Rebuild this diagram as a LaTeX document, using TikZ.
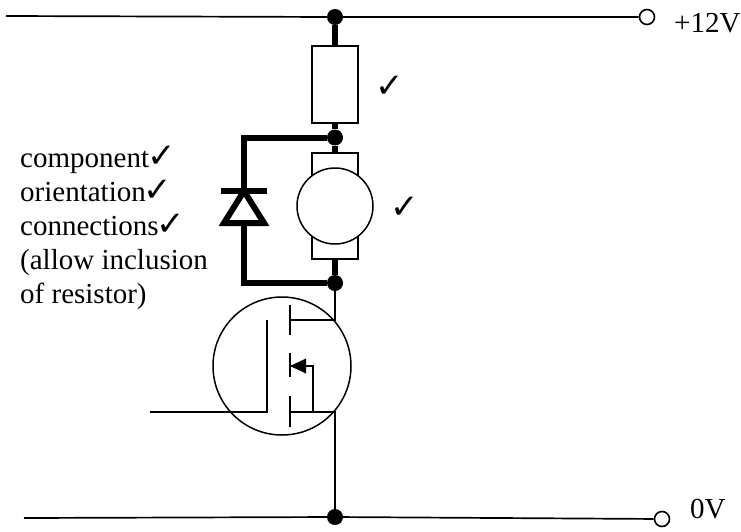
\documentclass[tikz,border=0pt]{standalone}
\usepackage{fontspec}
\setmainfont{Liberation Serif}
\newfontfamily\tickfont{DejaVu Sans}
\newcommand{\ck}{\smash{\hspace{-2pt}\tickfont\fontsize{34}{34}\selectfont ✓}}
\tikzset{
  junction/.style={circle, fill=black, inner sep=0pt, minimum size=16pt},
  terminal/.style={circle, draw=black, fill=white, line width=1.6pt, inner sep=0pt, minimum size=15pt},
  part/.style={draw=black, fill=white, line width=1.5pt, inner sep=0pt},
  thin wire/.style={line width=1.7pt},
  thick wire/.style={line width=6pt},
  label/.style={inner sep=0pt, font=\fontsize{29}{34}\selectfont}
}
\begin{document}
\begin{tikzpicture}[x=1pt, y=-1pt]
\useasboundingbox (0,0) rectangle (741,531);

%% rails and terminals
\coordinate (topleft) at (6,16);
\coordinate (botleft) at (24,518);
\node[terminal] (topterm) at (647,17) {};
\node[terminal] (botterm) at (662,519) {};
\node[junction] (dottop) at (335,17) {};
\node[junction] (dotmid) at (335,137.5) {};
\node[junction] (dotlow) at (335,283) {};
\node[junction] (dotbot) at (335,517) {};
\draw[thin wire] (topleft) -- (dottop) -- (topterm);
\draw[thin wire] (botleft) -- (dotbot) -- (botterm);

%% resistor and motor
\node[part, minimum width=46pt, minimum height=77pt] (resistor) at (335,84.5) {};
\node[part, minimum width=46pt, minimum height=106pt] (motorbody) at (335,206) {};
\node[part, circle, minimum size=76pt] (motor) at (335,206) {};
\draw[thick wire] (dottop) -- (resistor.north);
\draw[thick wire] (resistor.south) -- (dotmid);
\draw[thick wire] (dotmid) -- (motorbody.north);
\draw[thick wire] (motorbody.south) -- (dotlow);

%% diode
\coordinate (diodetop) at (244,191);
\coordinate (diodebot) at (244,223);
\coordinate (diodeleft) at (224,223);
\coordinate (dioderight) at (264,223);
\coordinate (barleft) at (221,191);
\coordinate (barright) at (267,191);
\draw[thick wire] (dotmid) -| (diodetop);
\draw[thick wire] (barleft) -- (barright);
\draw[thick wire] (diodetop) -- (dioderight) -- (diodeleft) -- cycle;
\draw[thick wire] (diodebot) |- (dotlow);

%% mosfet
\node[part, circle, fill=none, minimum size=138pt] (fet) at (282,366) {};
\coordinate (gatetop) at (267,320);
\coordinate (gatebot) at (267,412);
\coordinate (gatein) at (150,412);
\coordinate (draintop) at (290,305);
\coordinate (drainbot) at (290,335);
\coordinate (bodytop) at (290,353);
\coordinate (bodybot) at (290,377);
\coordinate (sourcetop) at (290,396);
\coordinate (sourcebot) at (290,427);
\coordinate (drainpin) at (290,320);
\coordinate (drainend) at (335,320);
\coordinate (sourcepin) at (290,412);
\coordinate (sourceend) at (335,412);
\coordinate (bodypin) at (290,366);
\coordinate (bodyelbow) at (313,366);
\coordinate (bodyend) at (313,412);
\draw[thin wire] (gatein) -- (gatebot) -- (gatetop);
\draw[thin wire] (draintop) -- (drainbot);
\draw[thin wire] (bodytop) -- (bodybot);
\draw[thin wire] (sourcetop) -- (sourcebot);
\draw[thin wire] (drainpin) -- (drainend) -- (dotlow);
\draw[thin wire] (sourcepin) -- (sourceend) -- (dotbot);
\draw[thin wire] (bodyend) -- (bodyelbow) -- (bodypin);
\fill (bodypin) -- (306,358.5) -- (306,373.5) -- cycle;

%% labels
\node[label, anchor=base west] (plus) at (674,32) {+12V};
\node[label, anchor=base west] (zero) at (690,518) {0V};
\node[label, anchor=center] (tickres) at (391,97) {\ck};
\node[label, anchor=center] (tickmotor) at (406,218) {\ck};
\node[label, anchor=north west, align=left] (notes) at (20,151)
  {component\ck\\orientation\ck\\connections\ck\\(allow inclusion\\of resistor)};
\end{tikzpicture}
\end{document}
